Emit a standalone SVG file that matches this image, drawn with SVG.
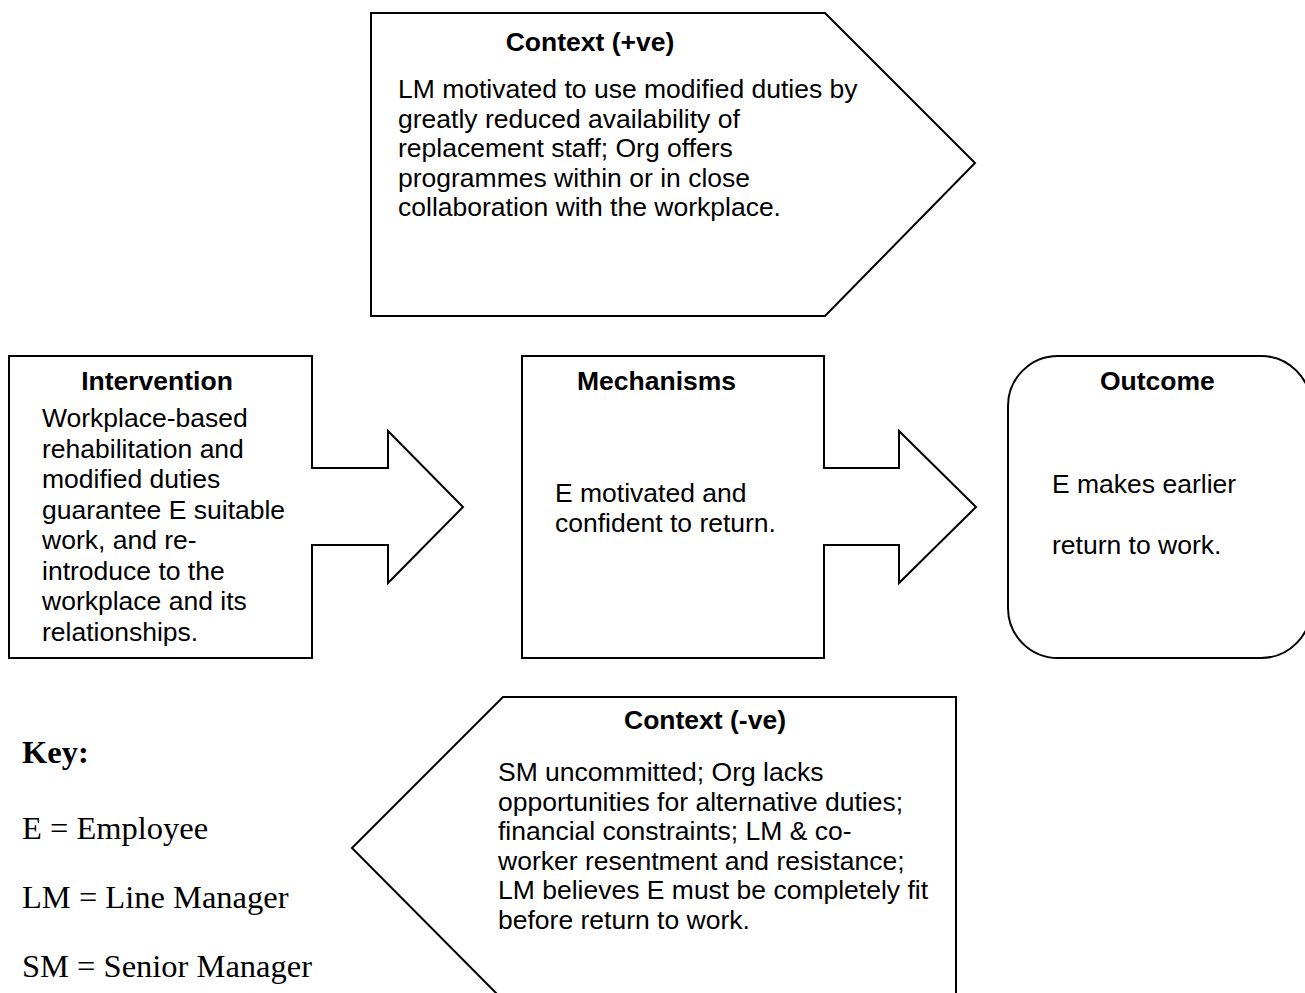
<svg xmlns="http://www.w3.org/2000/svg" width="1305" height="993" viewBox="0 0 1305 993">
<style>
.shape{fill:#fff;stroke:#000;stroke-width:2;stroke-linejoin:miter}
.t{font-family:"Liberation Sans",Arial,sans-serif;font-size:26.5px;fill:#000}
.b{font-weight:bold}
.k{font-family:"Liberation Serif","Times New Roman",serif;font-size:32.5px;fill:#000}
</style>
<rect width="1305" height="993" fill="#fff"/>
<g id="context-positive">
<path class="shape" d="M371,13 L825,13 L975,163 L825,316 L371,316 Z"/>
<text class="t b" x="590" y="51" text-anchor="middle">Context (+ve)</text>
<text class="t" x="398" y="98">LM motivated to use modified duties by</text>
<text class="t" x="398" y="127.5">greatly reduced availability of</text>
<text class="t" x="398" y="157">replacement staff; Org offers</text>
<text class="t" x="398" y="186.5">programmes within or in close</text>
<text class="t" x="398" y="216">collaboration with the workplace.</text>
</g>
<g id="intervention">
<path class="shape" d="M9,356 L312,356 L312,468 L388,468 L388,431 L463,507 L388,583 L388,545 L312,545 L312,658 L9,658 Z"/>
<text class="t b" x="157" y="390" text-anchor="middle">Intervention</text>
<text class="t" x="42" y="427">Workplace-based</text>
<text class="t" x="42" y="458">rehabilitation and</text>
<text class="t" x="42" y="488">modified duties</text>
<text class="t" x="42" y="519">guarantee E suitable</text>
<text class="t" x="42" y="549">work, and re-</text>
<text class="t" x="42" y="580">introduce to the</text>
<text class="t" x="42" y="610">workplace and its</text>
<text class="t" x="42" y="641">relationships.</text>
</g>
<g id="mechanisms">
<path class="shape" d="M522,356 L824,356 L824,468 L899,468 L899,431 L976,507 L899,583 L899,545 L824,545 L824,658 L522,658 Z"/>
<text class="t b" x="577" y="390">Mechanisms</text>
<text class="t" x="555" y="502">E motivated and</text>
<text class="t" x="555" y="532">confident to return.</text>
</g>
<g id="outcome">
<rect class="shape" x="1008" y="356" width="303" height="302" rx="50" ry="50"/>
<text class="t b" x="1100" y="390">Outcome</text>
<text class="t" x="1052" y="493">E makes earlier</text>
<text class="t" x="1052" y="554">return to work.</text>
</g>
<g id="context-negative">
<path class="shape" d="M503,697 L956,697 L956,1000 L503,1000 L352,848 Z"/>
<text class="t b" x="624" y="729">Context (-ve)</text>
<text class="t" x="498" y="781">SM uncommitted; Org lacks</text>
<text class="t" x="498" y="810.5">opportunities for alternative duties;</text>
<text class="t" x="498" y="840">financial constraints; LM &amp; co-</text>
<text class="t" x="498" y="869.5">worker resentment and resistance;</text>
<text class="t" x="498" y="899">LM believes E must be completely fit</text>
<text class="t" x="498" y="928.5">before return to work.</text>
</g>
<g id="key">
<text class="k" x="22" y="763" font-weight="bold">Key:</text>
<text class="k" x="22" y="839">E = Employee</text>
<text class="k" x="22" y="908">LM = Line Manager</text>
<text class="k" x="22" y="977">SM = Senior Manager</text>
</g>
<g id="connectors"/>
</svg>
